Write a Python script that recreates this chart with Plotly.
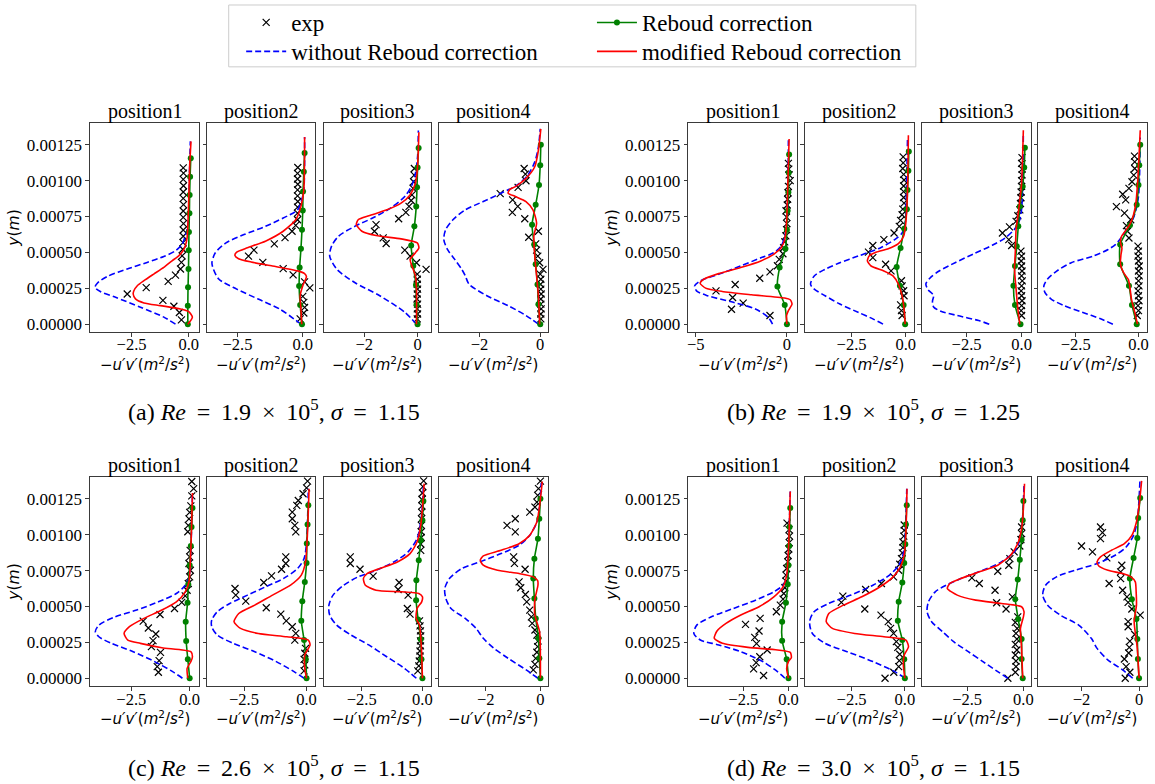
import plotly.graph_objects as go

# ---------------- DATA (y in 1e-3 m, x in m^2/s^2) ----------------
Y_UNIT = 1e-3
POSITIONS = ["position1", "position2", "position3", "position4"]
SP = " \u2009"
CAPTIONS = [
    f"(a) <i>Re</i>{SP}={SP}1.9{SP}×{SP}10<sup>5</sup>, <i>σ</i>{SP}={SP}1.15",
    f"(b) <i>Re</i>{SP}={SP}1.9{SP}×{SP}10<sup>5</sup>, <i>σ</i>{SP}={SP}1.25",
    f"(c) <i>Re</i>{SP}={SP}2.6{SP}×{SP}10<sup>5</sup>, <i>σ</i>{SP}={SP}1.15",
    f"(d) <i>Re</i>{SP}={SP}3.0{SP}×{SP}10<sup>5</sup>, <i>σ</i>{SP}={SP}1.15",
]
X_LABEL = "\u2212<i>u\u2032v\u2032</i>(<i>m</i><sup>2</sup>/<i>s</i><sup>2</sup>)"
Y_LABEL = "<i>y</i>(<i>m</i>)"
Y_TICKS = [0, 0.00025, 0.0005, 0.00075, 0.001, 0.00125]
Y_TICKTEXT = ["0.00000", "0.00025", "0.00050", "0.00075", "0.00100", "0.00125"]

# ---- (a) ----
A1_EXP_Y = [0.03, 0.081, 0.125, 0.166, 0.21, 0.254, 0.298, 0.342, 0.384, 0.43, 0.476, 0.522, 0.568, 0.612, 0.656, 0.70, 0.744, 0.788, 0.832, 0.876, 0.92, 0.964, 1.008, 1.052, 1.088]
A1_EXP_X = [-0.32, -0.41, -0.65, -1.13, -2.69, -1.86, -0.9, -0.58, -0.36, -0.32, -0.29, -0.26, -0.25, -0.24, -0.24, -0.23, -0.24, -0.24, -0.23, -0.24, -0.24, -0.23, -0.24, -0.23, -0.24]
A1_BLUE_Y = [0, 0.049, 0.118, 0.187, 0.226, 0.257, 0.287, 0.333, 0.384, 0.43, 0.471, 0.511, 0.557, 0.615, 0.684, 0.8, 1.03, 1.273]
A1_BLUE_X = [-0.58, -1.09, -2.11, -3.2, -3.85, -4.1, -3.99, -3.55, -2.69, -1.82, -1.09, -0.58, -0.29, -0.15, -0.04, 0.0, 0.03, 0.07]
A1_GREEN_Y = [0, 0.129, 0.257, 0.384, 0.515, 0.642, 0.772, 0.899, 1.026, 1.155]
A1_GREEN_X = [-0.04, -0.04, -0.03, -0.01, 0.0, 0.01, 0.03, 0.04, 0.06, 0.09]
A1_RED_Y = [0, 0.049, 0.088, 0.106, 0.129, 0.148, 0.176, 0.21, 0.233, 0.268, 0.303, 0.349, 0.395, 0.441, 0.476, 0.511, 0.545, 0.603, 0.684, 0.869, 1.1, 1.273]
A1_RED_X = [-0.04, 0.16, 0.0, -0.36, -1.24, -1.96, -2.33, -2.43, -2.4, -2.25, -1.96, -1.53, -1.09, -0.73, -0.44, -0.25, -0.15, -0.07, -0.04, 0.0, 0.04, 0.1]

A2_EXP_Y = [0.037, 0.078, 0.117, 0.152, 0.193, 0.253, 0.295, 0.343, 0.387, 0.43, 0.474, 0.516, 0.559, 0.603, 0.647, 0.688, 0.727, 0.773, 0.815, 0.854, 0.893, 0.935, 0.974, 1.011, 1.05, 1.091]
A2_EXP_X = [-0.1, 0.04, 0.07, 0.04, 0.0, 0.27, 0.07, -0.37, -0.75, -1.53, -2.08, -1.87, -1.09, -0.68, -0.41, -0.27, -0.2, -0.2, -0.2, -0.19, -0.2, -0.2, -0.19, -0.2, -0.2, -0.19]
A2_BLUE_Y = [0, 0.037, 0.106, 0.175, 0.244, 0.313, 0.382, 0.428, 0.497, 0.566, 0.624, 0.681, 0.739, 0.796, 0.866, 0.935, 1.303]
A2_BLUE_X = [-0.07, -0.34, -0.89, -1.71, -2.53, -3.21, -3.42, -3.48, -3.35, -2.94, -2.25, -1.43, -0.75, -0.2, -0.04, 0.04, 0.07]
A2_GREEN_Y = [0, 0.134, 0.265, 0.394, 0.525, 0.658, 0.792, 0.923, 1.061, 1.192]
A2_GREEN_X = [-0.03, -0.1, -0.14, -0.12, -0.07, -0.03, 0.0, 0.01, 0.04, 0.07]
A2_RED_Y = [0, 0.106, 0.198, 0.267, 0.331, 0.352, 0.371, 0.405, 0.433, 0.456, 0.479, 0.502, 0.532, 0.578, 0.647, 0.727, 0.82, 0.935, 1.303]
A2_RED_X = [-0.04, -0.07, -0.1, 0.0, 0.14, 0.07, -0.2, -1.16, -1.98, -2.46, -2.6, -2.53, -2.12, -1.43, -0.75, -0.27, -0.07, 0.04, 0.07]

A3_EXP_Y = [0.037, 0.071, 0.106, 0.14, 0.175, 0.21, 0.244, 0.278, 0.313, 0.348, 0.382, 0.428, 0.474, 0.516, 0.562, 0.601, 0.647, 0.693, 0.734, 0.778, 0.82, 0.861, 0.9, 0.946, 0.992, 1.038, 1.084]
A3_EXP_X = [-0.01, 0.0, -0.01, 0.0, -0.02, -0.01, 0.0, -0.01, -0.01, -0.01, 0.32, -0.04, -0.28, -0.48, -1.18, -1.29, -1.62, -1.56, -0.71, -0.44, -0.32, -0.24, -0.21, -0.17, -0.15, -0.13, -0.12]
A3_BLUE_Y = [0, 0.083, 0.198, 0.29, 0.382, 0.474, 0.543, 0.612, 0.681, 0.739, 0.808, 0.889, 0.969, 1.05, 1.165, 1.349]
A3_BLUE_X = [-0.04, -0.48, -1.42, -2.36, -3.03, -3.3, -3.23, -2.97, -2.36, -1.69, -1.02, -0.48, -0.21, -0.08, 0.0, 0.03]
A3_GREEN_Y = [0, 0.136, 0.272, 0.407, 0.548, 0.681, 0.82, 0.953, 1.091, 1.227]
A3_GREEN_X = [0.0, -0.04, -0.06, -0.16, -0.24, -0.12, -0.05, -0.02, 0.0, 0.04]
A3_RED_Y = [0, 0.244, 0.336, 0.405, 0.451, 0.497, 0.532, 0.566, 0.594, 0.617, 0.647, 0.693, 0.727, 0.755, 0.796, 0.843, 0.9, 0.981, 1.096, 1.337]
A3_RED_X = [-0.04, -0.04, -0.08, -0.21, -0.28, -0.08, 0.05, -0.01, -0.62, -1.56, -2.09, -2.3, -2.23, -1.83, -1.15, -0.62, -0.28, -0.08, 0.0, 0.05]

A4_EXP_Y = [0.037, 0.071, 0.106, 0.14, 0.175, 0.21, 0.244, 0.278, 0.313, 0.348, 0.382, 0.428, 0.474, 0.516, 0.559, 0.605, 0.647, 0.734, 0.778, 0.82, 0.866, 0.909, 0.953, 0.999, 1.045, 1.084]
A4_EXP_X = [0.02, 0.02, 0.03, 0.02, 0.02, 0.03, 0.02, 0.01, 0.02, 0.0, 0.09, -0.02, -0.08, -0.12, -0.15, -0.38, -0.06, -0.51, -0.92, -0.74, -0.91, -1.32, -0.73, -0.47, -0.49, -0.53]
A4_BLUE_Y = [0, 0.06, 0.129, 0.198, 0.279, 0.336, 0.382, 0.451, 0.52, 0.589, 0.658, 0.727, 0.796, 0.854, 0.912, 0.969, 1.038, 1.13, 1.234, 1.36]
A4_BLUE_X = [-0.06, -0.47, -1.06, -1.76, -2.35, -2.47, -2.59, -2.82, -3.06, -3.18, -3.12, -2.88, -2.47, -1.88, -1.29, -0.76, -0.41, -0.18, -0.06, 0.0]
A4_GREEN_Y = [0, 0.138, 0.276, 0.417, 0.555, 0.693, 0.831, 0.969, 1.107, 1.25]
A4_GREEN_X = [0.0, -0.06, -0.09, -0.15, -0.2, -0.27, -0.15, -0.04, 0.0, 0.02]
A4_RED_Y = [0, 0.198, 0.336, 0.474, 0.612, 0.704, 0.796, 0.854, 0.889, 0.912, 0.939, 0.958, 1.015, 1.096, 1.211, 1.36]
A4_RED_X = [-0.02, -0.06, -0.12, -0.18, -0.21, -0.12, -0.24, -0.47, -0.82, -1.06, -1.0, -0.82, -0.47, -0.18, -0.06, 0.02]

# ---- (b) ----
B1_EXP_Y = [0.06, 0.104, 0.147, 0.186, 0.232, 0.276, 0.32, 0.364, 0.407, 0.451, 0.49, 0.532, 0.573, 0.615, 0.658, 0.70, 0.745, 0.79, 0.83, 0.87, 0.915, 0.96, 1.0, 1.04, 1.08, 1.12]
B1_EXP_X = [-0.93, -3.04, -2.4, -2.98, -3.89, -2.84, -1.49, -0.93, -0.52, -0.42, -0.22, -0.18, -0.12, -0.06, -0.02, 0.0, -0.02, -0.05, 0.02, 0.04, 0.06, 0.08, 0.18, 0.12, 0.1, 0.08]
B1_BLUE_Y = [0, 0.048, 0.106, 0.152, 0.198, 0.232, 0.267, 0.301, 0.347, 0.405, 0.462, 0.497, 0.543, 0.612, 0.704, 1.28]
B1_BLUE_X = [-0.79, -1.03, -1.73, -2.94, -4.35, -4.96, -5.06, -4.76, -3.75, -2.54, -1.43, -0.73, -0.32, -0.12, 0.0, 0.08]
B1_GREEN_Y = [0, 0.134, 0.262, 0.394, 0.525, 0.658, 0.79, 0.918, 1.054, 1.181]
B1_GREEN_X = [0.0, -0.12, -0.52, -0.4, -0.08, 0.0, 0.04, 0.08, 0.1, 0.12]
B1_RED_Y = [0, 0.06, 0.094, 0.14, 0.17, 0.182, 0.205, 0.228, 0.251, 0.285, 0.313, 0.352, 0.394, 0.44, 0.486, 0.532, 0.589, 0.704, 0.935, 1.29]
B1_RED_X = [0.0, -0.02, 0.08, 0.28, 0.18, -0.12, -1.94, -3.55, -4.46, -4.76, -4.56, -3.75, -2.54, -1.43, -0.73, -0.32, -0.12, -0.02, 0.04, 0.12]

B2_EXP_Y = [0.06, 0.094, 0.134, 0.198, 0.233, 0.267, 0.302, 0.371, 0.417, 0.463, 0.502, 0.548, 0.589, 0.635, 0.681, 0.723, 0.762, 0.801, 0.843, 0.882, 0.923, 0.962, 1.004, 1.043, 1.084, 1.123, 1.165]
B2_EXP_X = [-0.17, -0.2, -0.24, -0.08, -0.1, -0.17, -0.2, -0.68, -0.93, -1.52, -1.72, -1.52, -1.01, -0.54, -0.3, -0.24, -0.17, -0.14, -0.08, -0.1, -0.1, -0.1, -0.08, -0.1, -0.14, -0.12, -0.12]
B2_BLUE_Y = [0, 0.037, 0.083, 0.14, 0.198, 0.244, 0.278, 0.336, 0.382, 0.428, 0.474, 0.531, 0.589, 0.635, 0.704, 0.935, 1.3]
B2_BLUE_X = [-1.05, -1.52, -2.2, -3.04, -3.72, -4.22, -4.39, -4.22, -3.72, -3.04, -2.2, -1.18, -0.51, -0.17, -0.03, 0.03, 0.08]
B2_GREEN_Y = [0, 0.134, 0.267, 0.398, 0.531, 0.665, 0.8, 0.935, 1.068, 1.202]
B2_GREEN_X = [-0.03, -0.1, -0.27, -0.42, -0.24, -0.07, 0.05, 0.08, 0.12, 0.14]
B2_RED_Y = [0, 0.106, 0.198, 0.278, 0.336, 0.37, 0.405, 0.44, 0.474, 0.502, 0.524, 0.561, 0.612, 0.704, 0.935, 1.315]
B2_RED_X = [-0.03, -0.08, -0.17, -0.34, -0.59, -1.01, -1.6, -1.77, -1.69, -1.35, -0.84, -0.34, -0.1, 0.0, 0.08, 0.12]

B3_EXP_Y = [0.06, 0.094, 0.129, 0.163, 0.198, 0.232, 0.267, 0.301, 0.336, 0.37, 0.405, 0.44, 0.474, 0.509, 0.548, 0.589, 0.635, 0.677, 0.716, 0.755, 0.796, 0.84, 0.88, 0.92, 0.96, 1.0, 1.04, 1.08, 1.12, 1.16]
B3_EXP_X = [0.0, -0.02, 0.0, 0.02, 0.0, -0.02, 0.0, 0.03, 0.0, 0.02, 0.0, -0.02, 0.0, -0.03, -0.45, -0.58, -0.87, -0.55, -0.25, -0.17, -0.08, -0.05, -0.03, -0.02, 0.0, 0.0, 0.02, 0.02, 0.0, 0.02]
B3_BLUE_Y = [0, 0.025, 0.06, 0.09, 0.12, 0.16, 0.2, 0.24, 0.28, 0.32, 0.37, 0.43, 0.49, 0.55, 0.6, 0.66, 0.72, 0.8, 1.32]
B3_BLUE_X = [-1.47, -1.95, -2.92, -3.67, -4.0, -4.05, -4.0, -4.25, -4.35, -4.17, -3.75, -3.0, -2.17, -1.33, -0.75, -0.33, -0.1, 0.0, 0.08]
B3_GREEN_Y = [0, 0.134, 0.267, 0.405, 0.543, 0.681, 0.82, 0.958, 1.091, 1.229]
B3_GREEN_X = [-0.05, -0.3, -0.37, -0.3, -0.22, -0.15, -0.08, 0.05, 0.12, 0.15]
B3_RED_Y = [0, 0.106, 0.244, 0.382, 0.52, 0.658, 0.75, 0.865, 0.98, 1.35]
B3_RED_X = [-0.08, -0.17, -0.25, -0.32, -0.28, -0.25, -0.17, -0.08, 0.0, 0.08]

B4_EXP_Y = [0.06, 0.094, 0.129, 0.163, 0.198, 0.232, 0.267, 0.301, 0.336, 0.37, 0.405, 0.44, 0.474, 0.509, 0.543, 0.6, 0.647, 0.686, 0.727, 0.773, 0.819, 0.866, 0.905, 0.946, 0.992, 1.038, 1.084, 1.13, 1.17]
B4_EXP_X = [-0.05, 0.0, -0.02, 0.02, 0.0, -0.02, 0.02, 0.0, 0.03, 0.0, 0.03, 0.0, -0.02, 0.0, -0.02, -0.38, -0.44, -0.48, -0.31, -0.56, -0.88, -0.51, -0.63, -0.38, -0.26, -0.19, -0.15, -0.15, -0.16]
B4_BLUE_Y = [0, 0.037, 0.083, 0.129, 0.175, 0.221, 0.267, 0.313, 0.37, 0.428, 0.474, 0.52, 0.554, 0.6, 0.658, 0.715, 0.784, 0.888, 1.3]
B4_BLUE_X = [-1.02, -1.51, -2.24, -2.97, -3.48, -3.73, -3.77, -3.63, -3.26, -2.68, -1.8, -1.21, -0.92, -0.7, -0.48, -0.26, -0.12, 0.0, 0.07]
B4_GREEN_Y = [0, 0.134, 0.267, 0.417, 0.555, 0.688, 0.831, 0.969, 1.107, 1.25]
B4_GREEN_X = [-0.07, -0.26, -0.38, -0.73, -0.73, -0.34, -0.07, 0.0, 0.03, 0.07]
B4_RED_Y = [0, 0.083, 0.175, 0.267, 0.31, 0.36, 0.42, 0.48, 0.53, 0.57, 0.61, 0.65, 0.7, 0.76, 0.85, 1.0, 1.35]
B4_RED_X = [-0.04, -0.15, -0.28, -0.35, -0.4, -0.6, -0.72, -0.7, -0.66, -0.72, -0.68, -0.52, -0.33, -0.2, -0.1, -0.03, 0.07]

# ---- (c) ----
C1_EXP_Y = [0.042, 0.081, 0.123, 0.18, 0.22, 0.262, 0.308, 0.35, 0.398, 0.444, 0.486, 0.528, 0.574, 0.613, 0.66, 0.706, 0.752, 0.799, 0.845, 0.89, 1.02, 1.065, 1.11, 1.155, 1.2, 1.27, 1.32, 1.37]
C1_EXP_X = [-1.34, -1.39, -1.31, -1.25, -1.64, -1.57, -1.45, -1.77, -1.99, -1.27, -0.65, -0.34, -0.19, -0.11, -0.06, 0.0, 0.03, -0.03, 0.0, 0.02, -0.08, -0.06, -0.03, 0.0, 0.05, 0.09, 0.17, 0.09]
C1_BLUE_Y = [0, 0.046, 0.116, 0.185, 0.243, 0.289, 0.324, 0.37, 0.428, 0.475, 0.532, 0.59, 0.648, 0.706, 0.9, 1.29]
C1_BLUE_X = [-0.31, -0.73, -1.5, -2.42, -3.35, -3.89, -4.04, -3.89, -3.19, -2.27, -1.34, -0.57, -0.19, -0.03, 0.05, 0.12]
C1_GREEN_Y = [0, 0.132, 0.259, 0.394, 0.526, 0.655, 0.787, 0.921, 1.053, 1.185]
C1_GREEN_X = [0.0, -0.08, -0.15, -0.17, -0.09, -0.06, 0.0, 0.05, 0.08, 0.12]
C1_RED_Y = [0, 0.069, 0.116, 0.15, 0.185, 0.213, 0.243, 0.266, 0.312, 0.359, 0.417, 0.475, 0.532, 0.602, 0.671, 0.9, 1.29]
C1_RED_X = [-0.08, -0.11, 0.05, 0.12, 0.05, -1.19, -2.11, -2.65, -2.81, -2.58, -1.96, -1.19, -0.57, -0.19, -0.03, 0.05, 0.12]

C2_EXP_Y = [0.051, 0.093, 0.132, 0.174, 0.208, 0.266, 0.312, 0.359, 0.4, 0.447, 0.491, 0.537, 0.579, 0.625, 0.667, 0.713, 0.759, 0.799, 0.845, 1.019, 1.065, 1.111, 1.157, 1.204, 1.238, 1.285, 1.326, 1.373]
C2_EXP_X = [-0.1, -0.07, -0.1, -0.07, -0.04, -0.47, -0.43, -0.57, -0.81, -1.03, -1.61, -2.43, -2.83, -2.86, -1.71, -1.4, -1.0, -0.83, -0.83, -0.43, -0.47, -0.57, -0.57, -0.39, -0.33, -0.14, 0.0, 0.04]
C2_BLUE_Y = [0, 0.046, 0.116, 0.185, 0.243, 0.301, 0.359, 0.405, 0.463, 0.521, 0.579, 0.637, 0.694, 0.764, 0.833, 0.95, 1.32]
C2_BLUE_X = [-0.1, -0.5, -1.21, -2.07, -2.93, -3.57, -3.79, -3.79, -3.57, -3.07, -2.36, -1.64, -0.93, -0.36, -0.1, 0.0, 0.07]
C2_GREEN_Y = [0, 0.132, 0.266, 0.4, 0.537, 0.671, 0.803, 0.938, 1.07, 1.204]
C2_GREEN_X = [0.0, -0.03, -0.1, -0.21, -0.17, -0.07, 0.0, 0.01, 0.04, 0.07]
C2_RED_Y = [0, 0.069, 0.162, 0.232, 0.266, 0.289, 0.312, 0.347, 0.394, 0.451, 0.509, 0.579, 0.648, 0.718, 0.81, 1.02, 1.32]
C2_RED_X = [0.0, -0.07, -0.07, 0.14, 0.07, -0.79, -1.93, -2.64, -2.9, -2.71, -2.07, -1.36, -0.64, -0.21, -0.04, 0.04, 0.1]

C3_EXP_Y = [0.051, 0.086, 0.12, 0.155, 0.19, 0.225, 0.26, 0.295, 0.33, 0.365, 0.4, 0.447, 0.486, 0.579, 0.618, 0.667, 0.711, 0.759, 0.799, 0.845, 0.89, 0.935, 0.98, 1.02, 1.065, 1.11, 1.155, 1.2, 1.245, 1.29, 1.335, 1.375]
C3_EXP_X = [-0.19, -0.15, -0.13, -0.1, -0.1, -0.08, -0.08, -0.07, -0.08, -0.1, -0.12, -0.51, -0.62, -0.59, -1.0, -0.96, -2.03, -2.57, -2.97, -2.97, -0.07, -0.07, -0.05, -0.05, -0.04, -0.04, -0.03, -0.02, -0.02, 0.0, 0.02, 0.05]
C3_BLUE_Y = [0, 0.069, 0.15, 0.232, 0.301, 0.37, 0.44, 0.509, 0.579, 0.648, 0.706, 0.752, 0.81, 0.88, 0.972, 1.088, 1.2, 1.34]
C3_BLUE_X = [-0.25, -0.74, -1.47, -2.21, -2.94, -3.53, -3.82, -3.85, -3.68, -3.24, -2.65, -1.91, -1.18, -0.59, -0.22, -0.07, 0.0, 0.04]
C3_GREEN_Y = [0, 0.132, 0.271, 0.41, 0.544, 0.683, 0.822, 0.961, 1.1, 1.234]
C3_GREEN_X = [0.0, -0.04, -0.07, -0.18, -0.26, -0.25, -0.15, -0.07, 0.0, 0.04]
C3_RED_Y = [0, 0.208, 0.37, 0.417, 0.486, 0.532, 0.567, 0.59, 0.602, 0.613, 0.648, 0.694, 0.729, 0.764, 0.81, 0.868, 0.949, 1.065, 1.18, 1.355]
C3_RED_X = [0.0, -0.04, -0.12, -0.26, -0.22, -0.03, 0.0, -0.15, -0.88, -1.91, -2.35, -2.43, -2.28, -1.76, -1.03, -0.51, -0.22, -0.07, 0.0, 0.07]

C4_EXP_Y = [0.058, 0.097, 0.139, 0.181, 0.22, 0.259, 0.3, 0.336, 0.382, 0.428, 0.475, 0.532, 0.583, 0.63, 0.671, 0.759, 0.8, 0.845, 1.019, 1.065, 1.111, 1.157, 1.192, 1.227, 1.273, 1.32, 1.373]
C4_EXP_X = [-0.26, -0.2, -0.17, -0.13, -0.1, -0.09, -0.13, -0.2, -0.3, -0.33, -0.39, -0.5, -0.55, -0.72, -0.78, -0.56, -0.95, -0.98, -0.92, -1.22, -0.92, -0.39, -0.2, -0.13, -0.1, -0.07, 0.0]
C4_BLUE_Y = [0, 0.058, 0.139, 0.208, 0.278, 0.347, 0.417, 0.486, 0.556, 0.625, 0.694, 0.764, 0.81, 0.868, 0.926, 0.995, 1.088, 1.2, 1.36]
C4_BLUE_X = [-0.09, -0.52, -1.18, -1.7, -2.09, -2.35, -2.75, -3.27, -3.46, -3.5, -3.33, -2.88, -2.22, -1.44, -0.78, -0.39, -0.13, -0.03, 0.03]
C4_GREEN_Y = [0, 0.139, 0.278, 0.417, 0.556, 0.694, 0.833, 0.972, 1.111, 1.25]
C4_GREEN_X = [0.0, -0.04, -0.07, -0.17, -0.22, -0.26, -0.22, -0.09, -0.04, 0.0]
C4_RED_Y = [0, 0.324, 0.44, 0.55, 0.648, 0.68, 0.706, 0.729, 0.752, 0.787, 0.822, 0.852, 0.891, 0.937, 0.995, 1.088, 1.2, 1.37]
C4_RED_X = [0.0, -0.03, -0.2, -0.2, -0.09, -0.1, -0.26, -0.78, -1.57, -2.09, -2.2, -2.09, -1.44, -0.78, -0.39, -0.13, -0.03, 0.07]

# ---- (d) ----
D1_EXP_Y = [0.019, 0.065, 0.109, 0.15, 0.197, 0.241, 0.285, 0.329, 0.375, 0.417, 0.463, 0.509, 0.551, 0.59, 0.63, 0.676, 0.718, 0.764, 0.81, 0.855, 0.9, 0.945, 0.99, 1.035, 1.08]
D1_EXP_X = [-1.38, -1.93, -1.79, -1.59, -1.18, -1.77, -1.87, -1.63, -2.38, -1.57, -0.67, -0.45, -0.3, -0.26, -0.2, -0.14, -0.14, -0.1, -0.04, -0.02, 0.02, 0.04, 0.06, 0.03, -0.08]
D1_BLUE_Y = [0, 0.046, 0.116, 0.185, 0.232, 0.266, 0.312, 0.37, 0.428, 0.486, 0.544, 0.602, 0.648, 0.706, 0.9, 1.3]
D1_BLUE_X = [-0.2, -0.61, -1.42, -2.64, -3.86, -4.88, -5.24, -5.08, -4.27, -3.05, -1.83, -0.81, -0.3, -0.1, 0.0, 0.1]
D1_GREEN_Y = [0, 0.132, 0.262, 0.394, 0.526, 0.655, 0.787, 0.921, 1.053, 1.185]
D1_GREEN_X = [0.0, -0.1, -0.35, -0.35, -0.14, -0.04, 0.0, 0.04, 0.06, 0.1]
D1_RED_Y = [0, 0.069, 0.116, 0.144, 0.18, 0.197, 0.215, 0.243, 0.278, 0.329, 0.382, 0.44, 0.498, 0.567, 0.637, 0.718, 0.9, 1.3]
D1_RED_X = [0.0, -0.1, 0.0, 0.16, 0.1, -0.61, -2.24, -3.66, -4.11, -3.96, -3.46, -2.64, -1.63, -0.81, -0.3, -0.1, 0.0, 0.1]

D2_EXP_Y = [0.0, 0.042, 0.081, 0.123, 0.167, 0.215, 0.255, 0.312, 0.347, 0.394, 0.44, 0.482, 0.528, 0.572, 0.618, 0.66, 0.706, 0.752, 0.794, 0.833, 0.873, 0.91, 0.949, 0.99, 1.03, 1.067]
D2_EXP_X = [-0.93, -0.52, -0.29, -0.26, -0.24, -0.33, -0.4, -0.53, -0.67, -0.78, -1.12, -1.88, -2.98, -2.91, -1.84, -1.1, -0.53, -0.29, -0.24, -0.16, -0.12, -0.09, -0.09, -0.05, -0.03, -0.03]
D2_BLUE_Y = [0, 0.046, 0.116, 0.185, 0.243, 0.312, 0.394, 0.463, 0.521, 0.579, 0.648, 0.718, 0.787, 0.857, 0.97, 1.32]
D2_BLUE_X = [0.0, -0.47, -1.5, -2.71, -3.74, -4.34, -4.47, -4.26, -3.57, -2.53, -1.5, -0.72, -0.29, -0.09, 0.0, 0.09]
D2_GREEN_Y = [0, 0.132, 0.266, 0.4, 0.532, 0.667, 0.803, 0.933, 1.07, 1.204]
D2_GREEN_X = [0.0, -0.03, -0.12, -0.33, -0.29, -0.12, -0.03, 0.02, 0.05, 0.09]
D2_RED_Y = [0, 0.093, 0.162, 0.22, 0.266, 0.289, 0.312, 0.347, 0.394, 0.451, 0.509, 0.567, 0.637, 0.706, 0.775, 0.857, 1.02, 1.32]
D2_RED_X = [0.0, -0.07, -0.03, 0.17, 0.05, -0.98, -2.36, -3.4, -3.69, -3.57, -2.88, -2.02, -1.16, -0.55, -0.21, -0.03, 0.05, 0.1]

D3_EXP_Y = [0.0, 0.042, 0.081, 0.12, 0.162, 0.197, 0.236, 0.273, 0.312, 0.347, 0.389, 0.428, 0.482, 0.526, 0.567, 0.613, 0.66, 0.699, 0.745, 0.787, 0.833, 0.88, 0.921, 0.965, 1.007, 1.053]
D3_EXP_X = [-0.69, -0.36, -0.33, -0.33, -0.36, -0.29, -0.36, -0.29, -0.33, -0.28, -0.36, -0.25, -0.77, -1.19, -0.49, -1.26, -1.96, -2.29, -1.14, -0.65, -0.6, -0.41, -0.16, -0.11, -0.08, -0.08]
D3_BLUE_Y = [0, 0.046, 0.116, 0.185, 0.255, 0.324, 0.394, 0.463, 0.532, 0.602, 0.648, 0.694, 0.752, 0.81, 0.88, 0.961, 1.088, 1.36]
D3_BLUE_X = [-0.69, -1.14, -1.8, -2.45, -3.1, -3.59, -4.08, -4.28, -4.22, -3.92, -3.43, -2.78, -1.8, -0.98, -0.41, -0.16, -0.05, 0.03]
D3_GREEN_Y = [0, 0.134, 0.273, 0.412, 0.551, 0.687, 0.826, 0.965, 1.1, 1.234]
D3_GREEN_X = [-0.03, -0.08, -0.08, -0.23, -0.36, -0.25, -0.16, -0.08, -0.03, 0.0]
D3_RED_Y = [0, 0.208, 0.347, 0.428, 0.463, 0.498, 0.521, 0.544, 0.579, 0.625, 0.66, 0.694, 0.741, 0.787, 0.857, 0.938, 1.042, 1.18, 1.355]
D3_RED_X = [-0.03, -0.08, -0.13, 0.0, 0.03, -0.08, -0.98, -2.12, -2.94, -3.38, -3.27, -2.78, -1.96, -1.14, -0.57, -0.25, -0.08, 0.0, 0.05]

D4_EXP_Y = [0.0, 0.042, 0.081, 0.134, 0.176, 0.215, 0.259, 0.305, 0.359, 0.394, 0.44, 0.482, 0.528, 0.567, 0.613, 0.66, 0.694, 0.741, 0.787, 0.838, 0.88, 0.921, 0.972, 1.014, 1.053]
D4_EXP_X = [-0.48, -0.32, -0.45, -0.51, -0.36, -0.34, -0.32, -0.15, -0.38, -0.38, 0.04, -0.25, -0.38, -0.42, -0.57, -1.04, -0.64, -0.64, -0.6, -1.12, -1.62, -2.0, -1.34, -1.27, -1.34]
D4_BLUE_Y = [0, 0.058, 0.127, 0.208, 0.278, 0.37, 0.44, 0.509, 0.579, 0.648, 0.706, 0.752, 0.799, 0.857, 0.914, 0.995, 1.1, 1.37]
D4_BLUE_X = [-0.22, -0.57, -1.08, -1.46, -1.66, -2.1, -2.74, -3.18, -3.35, -3.25, -2.87, -2.23, -1.46, -0.83, -0.45, -0.19, -0.06, 0.03]
D4_GREEN_Y = [0, 0.134, 0.273, 0.412, 0.551, 0.694, 0.838, 0.977, 1.116, 1.255]
D4_GREEN_X = [0.0, -0.04, -0.06, -0.09, -0.25, -0.32, -0.19, -0.06, -0.03, 0.04]
D4_RED_Y = [0, 0.208, 0.394, 0.509, 0.6, 0.671, 0.706, 0.729, 0.752, 0.782, 0.81, 0.845, 0.891, 0.937, 0.995, 1.088, 1.2, 1.375]
D4_RED_X = [0.0, -0.06, -0.17, -0.09, -0.1, -0.13, -0.28, -0.57, -1.08, -1.4, -1.46, -1.34, -0.96, -0.51, -0.25, -0.09, 0.0, 0.09]

# x-axis ranges and ticks per panel
X_RANGES = [
    [-4.32, 0.45], [-3.65, 0.48], [-3.53, 0.52], [-3.33, 0.24],
    [-5.42, 0.56], [-4.65, 0.38], [-4.54, 0.42], [-4.00, 0.32],
    [-4.27, 0.40], [-3.96, 0.35], [-4.07, 0.37], [-3.70, 0.26],
    [-5.56, 0.48], [-4.69, 0.43], [-4.52, 0.33], [-3.51, 0.26],
]
X_TICKS = [
    [-2.5, 0.0], [-2.5, 0.0], [-2, 0], [-2, 0],
    [-5, 0], [-2.5, 0.0], [-2.5, 0.0], [-2.5, 0.0],
    [-2.5, 0.0], [-2.5, 0.0], [-2.5, 0.0], [-2, 0],
    [-2.5, 0.0], [-2.5, 0.0], [-2.5, 0.0], [-2, 0],
]

PANEL_DATA = [
    (A1_EXP_Y, A1_EXP_X, A1_BLUE_Y, A1_BLUE_X, A1_GREEN_Y, A1_GREEN_X, A1_RED_Y, A1_RED_X),
    (A2_EXP_Y, A2_EXP_X, A2_BLUE_Y, A2_BLUE_X, A2_GREEN_Y, A2_GREEN_X, A2_RED_Y, A2_RED_X),
    (A3_EXP_Y, A3_EXP_X, A3_BLUE_Y, A3_BLUE_X, A3_GREEN_Y, A3_GREEN_X, A3_RED_Y, A3_RED_X),
    (A4_EXP_Y, A4_EXP_X, A4_BLUE_Y, A4_BLUE_X, A4_GREEN_Y, A4_GREEN_X, A4_RED_Y, A4_RED_X),
    (B1_EXP_Y, B1_EXP_X, B1_BLUE_Y, B1_BLUE_X, B1_GREEN_Y, B1_GREEN_X, B1_RED_Y, B1_RED_X),
    (B2_EXP_Y, B2_EXP_X, B2_BLUE_Y, B2_BLUE_X, B2_GREEN_Y, B2_GREEN_X, B2_RED_Y, B2_RED_X),
    (B3_EXP_Y, B3_EXP_X, B3_BLUE_Y, B3_BLUE_X, B3_GREEN_Y, B3_GREEN_X, B3_RED_Y, B3_RED_X),
    (B4_EXP_Y, B4_EXP_X, B4_BLUE_Y, B4_BLUE_X, B4_GREEN_Y, B4_GREEN_X, B4_RED_Y, B4_RED_X),
    (C1_EXP_Y, C1_EXP_X, C1_BLUE_Y, C1_BLUE_X, C1_GREEN_Y, C1_GREEN_X, C1_RED_Y, C1_RED_X),
    (C2_EXP_Y, C2_EXP_X, C2_BLUE_Y, C2_BLUE_X, C2_GREEN_Y, C2_GREEN_X, C2_RED_Y, C2_RED_X),
    (C3_EXP_Y, C3_EXP_X, C3_BLUE_Y, C3_BLUE_X, C3_GREEN_Y, C3_GREEN_X, C3_RED_Y, C3_RED_X),
    (C4_EXP_Y, C4_EXP_X, C4_BLUE_Y, C4_BLUE_X, C4_GREEN_Y, C4_GREEN_X, C4_RED_Y, C4_RED_X),
    (D1_EXP_Y, D1_EXP_X, D1_BLUE_Y, D1_BLUE_X, D1_GREEN_Y, D1_GREEN_X, D1_RED_Y, D1_RED_X),
    (D2_EXP_Y, D2_EXP_X, D2_BLUE_Y, D2_BLUE_X, D2_GREEN_Y, D2_GREEN_X, D2_RED_Y, D2_RED_X),
    (D3_EXP_Y, D3_EXP_X, D3_BLUE_Y, D3_BLUE_X, D3_GREEN_Y, D3_GREEN_X, D3_RED_Y, D3_RED_X),
    (D4_EXP_Y, D4_EXP_X, D4_BLUE_Y, D4_BLUE_X, D4_GREEN_Y, D4_GREEN_X, D4_RED_Y, D4_RED_X),
]

# ---------------- LAYOUT (pixels) ----------------
W, H = 1155, 784
Y_RANGE = [-0.0000556, 0.001403]
COL_LEFT = [(89.3, 198.7), (207.2, 315.4), (323.7, 431.9), (439.8, 548.4)]
COL_RIGHT = [(689.5, 798.9), (806.7, 916.2), (923.9, 1033.4), (1040.7, 1149.5)]
ROW_TOP = (123, 333)
ROW_BOTTOM = (478, 688)
GROUPS = [(COL_LEFT, ROW_TOP), (COL_RIGHT, ROW_TOP), (COL_LEFT, ROW_BOTTOM), (COL_RIGHT, ROW_BOTTOM)]
CAPTION_POS = [(274, 411), (876, 411), (274, 768), (876, 768)]

SERIF = "Liberation Serif"
SANS = "DejaVu Sans"
FRAME = "#3a3a3a"


def px_x(v):
    return v / W


def px_y(v):
    return 1 - v / H


def fmt_tick(v):
    s = f"{v:.1f}" if isinstance(v, float) else f"{v:d}"
    return s.replace("-", "\u2212")


def sc(vals):
    return [v * Y_UNIT for v in vals]


fig = go.Figure()
layout = {}
annotations = []

for k in range(16):
    g, j = divmod(k, 4)
    cols, row = GROUPS[g]
    x0, x1 = cols[j]
    n = k + 1
    xa = "x" if n == 1 else f"x{n}"
    ya = "y" if n == 1 else f"y{n}"
    ey, ex, by, bx, gy, gx, ry, rx = PANEL_DATA[k]
    first = (k == 0)

    fig.add_trace(go.Scatter(
        x=ex, y=sc(ey), xaxis=xa, yaxis=ya, mode="markers", name="exp",
        marker=dict(symbol="x-thin", size=7, color="black", line=dict(width=1.2, color="black")),
        legend="legend", showlegend=first))
    fig.add_trace(go.Scatter(
        x=bx, y=sc(by), xaxis=xa, yaxis=ya, mode="lines", name="without Reboud correction",
        line=dict(color="#0000ff", width=1.6, dash="6px,3px", shape="spline", smoothing=0.8),
        legend="legend2", showlegend=first))
    fig.add_trace(go.Scatter(
        x=gx, y=sc(gy), xaxis=xa, yaxis=ya, mode="lines+markers", name="Reboud correction",
        line=dict(color="#008000", width=1.6, shape="spline", smoothing=0.6),
        marker=dict(size=6, color="#008000"),
        legend="legend3", showlegend=first))
    fig.add_trace(go.Scatter(
        x=rx, y=sc(ry), xaxis=xa, yaxis=ya, mode="lines", name="modified Reboud correction",
        line=dict(color="#ff0000", width=1.6, shape="spline", smoothing=0.6),
        legend="legend4", showlegend=first))

    ticks = X_TICKS[k]
    layout["xaxis" if n == 1 else f"xaxis{n}"] = dict(
        domain=[px_x(x0), px_x(x1)], anchor=ya, range=X_RANGES[k],
        tickmode="array", tickvals=ticks, ticktext=[fmt_tick(t) for t in ticks],
        ticks="outside", ticklen=3.5, tickcolor=FRAME, tickwidth=1, ticklabelstandoff=-6,
        showline=True, linecolor=FRAME, linewidth=1, mirror=True,
        showgrid=False, zeroline=False,
        tickfont=dict(family=SERIF, size=16.5, color="black"),
    )
    ydict = dict(
        domain=[px_y(row[1]), px_y(row[0])], anchor=xa, range=Y_RANGE,
        tickmode="array", tickvals=Y_TICKS, ticktext=Y_TICKTEXT, showticklabels=(j == 0),
        ticks="outside", ticklen=3.5, tickcolor=FRAME, tickwidth=1,
        showline=True, linecolor=FRAME, linewidth=1, mirror=True,
        showgrid=False, zeroline=False,
        tickfont=dict(family=SERIF, size=17, color="black"),
    )
    if j == 0:
        ydict["title"] = dict(text=Y_LABEL, font=dict(family=SANS, size=15.5, color="black"), standoff=3)
    layout["yaxis" if n == 1 else f"yaxis{n}"] = ydict

    annotations.append(dict(
        text=POSITIONS[j], x=px_x((x0 + x1) / 2), y=px_y(row[0] + 2), xref="paper", yref="paper",
        xanchor="center", yanchor="bottom", showarrow=False,
        font=dict(family=SERIF, size=20, color="black")))
    annotations.append(dict(
        text=X_LABEL, x=px_x((x0 + x1) / 2), y=px_y(row[1] + 32), xref="paper", yref="paper",
        xanchor="center", yanchor="middle", showarrow=False,
        font=dict(family=SANS, size=15, color="black")))

for g, (cx, cy) in enumerate(CAPTION_POS):
    annotations.append(dict(
        text=CAPTIONS[g], x=px_x(cx), y=px_y(cy), xref="paper", yref="paper",
        xanchor="center", yanchor="middle", showarrow=False,
        font=dict(family=SERIF, size=24, color="black")))

LEG_FONT = dict(family=SERIF, size=23, color="black")


def leg(xp, yp):
    return dict(x=px_x(xp), y=px_y(yp), xanchor="left", yanchor="top", itemwidth=40,
                font=LEG_FONT, bgcolor="rgba(0,0,0,0)", borderwidth=0)


fig.update_layout(
    width=W, height=H, margin=dict(l=0, r=0, t=0, b=0),
    paper_bgcolor="white", plot_bgcolor="white",
    annotations=annotations,
    shapes=[dict(type="rect", xref="paper", yref="paper",
                 x0=px_x(228.5), x1=px_x(918), y0=px_y(67), y1=px_y(5),
                 line=dict(color="#cccccc", width=1), fillcolor="rgba(0,0,0,0)")],
    legend=leg(241, 1),
    legend2=leg(241, 30),
    legend3=leg(593, 1),
    legend4=leg(593, 30),
    showlegend=True,
    **layout,
)

fig.write_html("out.html", config={"displayModeBar": False},
               post_script="document.body.style.margin='0px';document.body.style.overflow='hidden';")
